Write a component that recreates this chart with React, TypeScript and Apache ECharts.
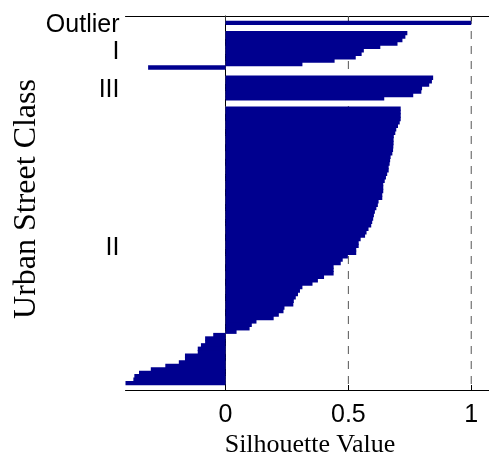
import React, { useEffect, useRef } from 'react';
import * as echarts from 'echarts';

// Cluster labels (top to bottom)
const clusterNames = ['Outlier', 'I', 'III', 'II'];

// Silhouette values per cluster, sorted descending
const outlierValues = [1.0];
const classIValues = [0.74, 0.732, 0.72, 0.70, 0.63, 0.563, 0.554, 0.53, 0.444, 0.313, -0.315];
const classIIIValues = [0.845, 0.84, 0.829, 0.80, 0.797, 0.764, 0.646];
const classIIValues = [
  0.713, 0.713, 0.713, 0.713, 0.709, 0.702, 0.695, 0.691, 0.685, 0.684,
  0.684, 0.683, 0.682, 0.679, 0.672, 0.670, 0.668, 0.664, 0.664, 0.658,
  0.653, 0.648, 0.642, 0.642, 0.642, 0.638, 0.638, 0.623, 0.620, 0.614,
  0.608, 0.604, 0.601, 0.597, 0.593, 0.582, 0.574, 0.568, 0.550, 0.542,
  0.542, 0.532, 0.532, 0.498, 0.477, 0.469, 0.440, 0.440, 0.440, 0.401,
  0.376, 0.354, 0.313, 0.303, 0.295, 0.286, 0.278, 0.276, 0.240, 0.236,
  0.217, 0.196, 0.126, 0.107, 0.098, 0.045, -0.050, -0.083, -0.083, -0.100,
  -0.113, -0.113, -0.165, -0.165, -0.190, -0.245, -0.304, -0.352, -0.371, -0.375,
  -0.407,
];

const xTickValues = [0, 0.5, 1];
const xMin = -0.407;
const xMax = 1.1;
const clusterSpace = 2;

export default function App() {
  const ref = useRef<HTMLDivElement>(null);

  useEffect(() => {
    const chart = echarts.init(ref.current!, null, { renderer: 'svg' });
    const clusters = [outlierValues, classIValues, classIIIValues, classIIValues];
    const bars: (number | null)[] = [];
    for (let i = 0; i < clusterSpace; i++) bars.push(null);
    const tickIdx: Record<number, string> = {};
    clusters.forEach((vals, ci) => {
      const start = bars.length;
      vals.forEach((v) => bars.push(v));
      tickIdx[start + Math.round((vals.length - 1) / 2)] = clusterNames[ci];
      for (let i = 0; i < clusterSpace; i++) bars.push(null);
    });
    const cats = bars.map((_, i) => String(i + 1));
    const last = bars.length - 1;
    const plotHeight = 374;
    const barData: [number, number][] = [];
    bars.forEach((v, i) => {
      if (v != null) barData.push([v, i]);
    });

    const axisLineStyle = { show: true, lineStyle: { color: '#000', width: 1 } };
    const xTick = { show: true, inside: true, length: 5, customValues: xTickValues, lineStyle: { color: '#000' } };

    const gridSeries = xTickValues.map((v) => ({
      type: 'line',
      z: 1,
      silent: true,
      symbol: 'none',
      xAxisIndex: 0,
      data: [[v, 0], [v, last]],
      lineStyle: { color: v === 0 ? '#333' : '#555', width: 1, type: [8, 7] },
    }));

    chart.setOption({
      animation: false,
      grid: {
        left: 125.5,
        top: 16,
        width: 370.3,
        height: plotHeight,
        containLabel: false,
        outerBoundsMode: 'none',
      },
      xAxis: [
        {
          type: 'value',
          min: xMin,
          max: xMax,
          position: 'bottom',
          axisLine: axisLineStyle,
          axisTick: xTick,
          axisLabel: {
            customValues: xTickValues,
            formatter: (v: number) => String(v),
            fontFamily: 'Liberation Sans',
            fontSize: 25,
            color: '#000',
            margin: 10,
          },
          splitLine: { show: false },
        },
        {
          type: 'value',
          min: xMin,
          max: xMax,
          position: 'top',
          axisLine: axisLineStyle,
          axisTick: xTick,
          axisLabel: { show: false },
          splitLine: { show: false },
        },
      ],
      yAxis: {
        type: 'category',
        inverse: true,
        boundaryGap: false,
        data: cats,
        axisLine: axisLineStyle,
        axisTick: {
          show: true,
          inside: true,
          length: 4,
          interval: (i: number) => i in tickIdx,
          lineStyle: { color: '#000' },
        },
        axisLabel: {
          interval: (i: number) => i in tickIdx,
          formatter: (_v: string, i: number) => tickIdx[i] ?? '',
          fontFamily: 'Liberation Sans',
          fontSize: 25,
          color: '#000',
          margin: 6,
        },
        splitLine: { show: false },
      },
      series: [
        ...gridSeries,
        {
          type: 'custom',
          z: 2,
          xAxisIndex: 0,
          silent: true,
          encode: { x: 0, y: 1 },
          data: barData,
          renderItem: (_params: any, api: any) => {
            const v = api.value(0);
            const idx = api.value(1);
            const p0 = api.coord([0, idx]);
            const p1 = api.coord([v, idx]);
            const h = api.size([0, 1])[1];
            return {
              type: 'rect',
              shape: {
                x: Math.min(p0[0], p1[0]),
                y: p0[1] - h / 2 - 0.5,
                width: Math.abs(p1[0] - p0[0]),
                height: h + 1,
              },
              style: { fill: '#00008F' },
            };
          },
        },
      ],
      graphic: [
        {
          type: 'text',
          x: 310,
          y: 443,
          style: {
            text: 'Silhouette Value',
            fontFamily: 'Liberation Serif',
            fontSize: 26,
            fill: '#000',
            align: 'center',
            verticalAlign: 'middle',
          },
        },
        {
          type: 'text',
          x: 24,
          y: 199,
          rotation: Math.PI / 2,
          style: {
            text: 'Urban Street Class',
            fontFamily: 'Liberation Serif',
            fontSize: 32,
            fill: '#000',
            align: 'center',
            verticalAlign: 'middle',
          },
        },
      ],
    });
    return () => chart.dispose();
  }, []);

  return (
    <div
      ref={ref}
      style={{ position: 'fixed', left: 0, top: 0, width: 489, height: 461 }}
    />
  );
}
